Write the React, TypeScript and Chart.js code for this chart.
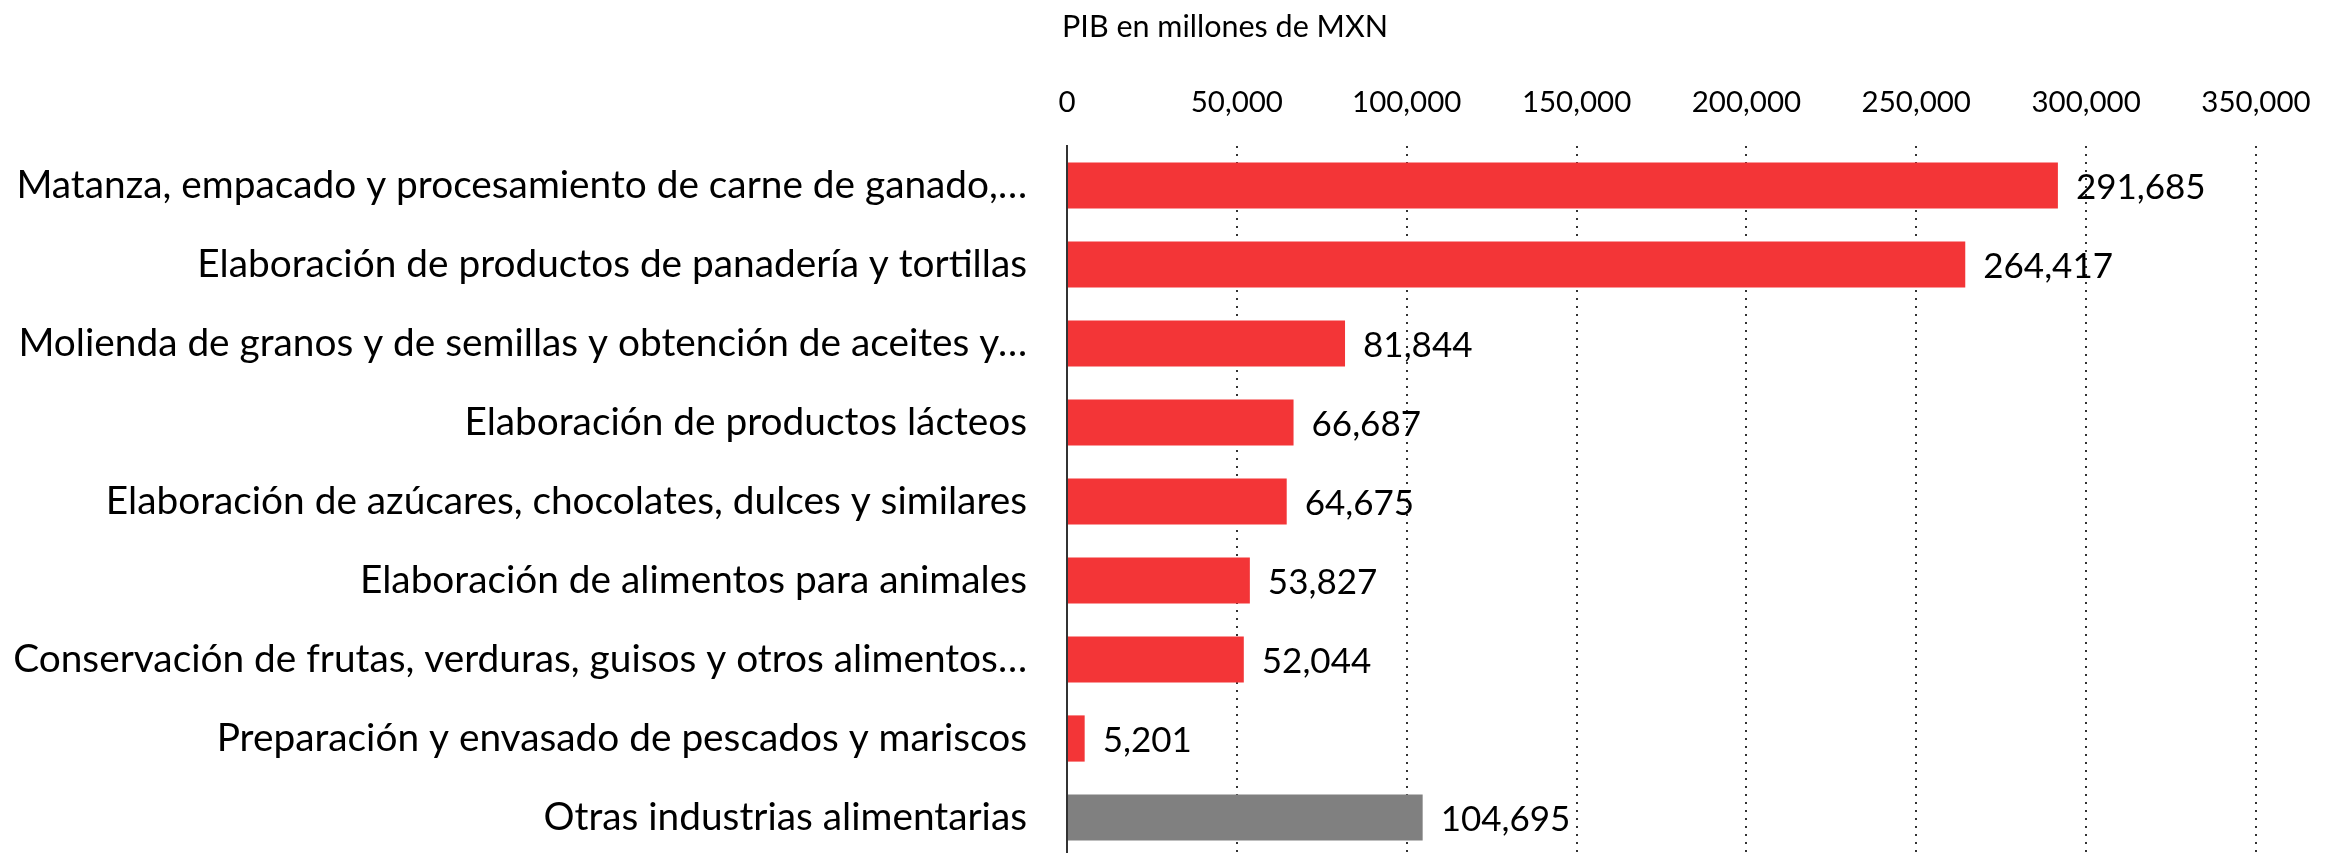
import React, { useEffect, useRef } from 'react';
import { Chart, registerables } from 'chart.js';

Chart.register(...registerables);

const categories: string[] = [
  'Matanza, empacado y procesamiento de carne de ganado,…',
  'Elaboración de productos de panadería y tortillas',
  'Molienda de granos y de semillas y obtención de aceites y…',
  'Elaboración de productos lácteos',
  'Elaboración de azúcares, chocolates, dulces y similares',
  'Elaboración de alimentos para animales',
  'Conservación de frutas, verduras, guisos y otros alimentos…',
  'Preparación y envasado de pescados y mariscos',
  'Otras industrias alimentarias',
];

const values: number[] = [291685, 264417, 81844, 66687, 64675, 53827, 52044, 5201, 104695];

const barColors: string[] = [
  '#F33537', '#F33537', '#F33537', '#F33537', '#F33537', '#F33537', '#F33537', '#F33537', '#808080',
];

const axisMin = 0;
const axisMax = 350000;
const axisStep = 50000;
const chartTitle = 'PIB en millones de MXN';

const FONT = 'Lato, "Open Sans", sans-serif';

const fmt = (v: number) => v.toLocaleString('en-US');

export default function App() {
  const ref = useRef<HTMLCanvasElement | null>(null);

  useEffect(() => {
    if (!ref.current) return;

    const titlePlugin = {
      id: 'customTitle',
      afterDraw(chart: any) {
        const ctx = chart.ctx;
        ctx.save();
        ctx.font = `30.5px ${FONT}`;
        ctx.fillStyle = '#000';
        ctx.textAlign = 'center';
        ctx.textBaseline = 'middle';
        ctx.fillText(chartTitle, 1225, 27);
        ctx.restore();
      },
    };

    const valueLabels = {
      id: 'valueLabels',
      afterDatasetsDraw(chart: any) {
        const ctx = chart.ctx;
        const meta = chart.getDatasetMeta(0);
        ctx.save();
        ctx.font = `35px ${FONT}`;
        ctx.fillStyle = '#000';
        ctx.textAlign = 'left';
        ctx.textBaseline = 'middle';
        meta.data.forEach((el: any, i: number) => {
          ctx.fillText(fmt(values[i]), el.x + 18, el.y + 2);
        });
        ctx.restore();
      },
    };

    const chart = new Chart(ref.current, {
      type: 'bar',
      data: {
        labels: categories,
        datasets: [
          {
            data: values,
            backgroundColor: barColors,
            borderWidth: 0,
            barPercentage: 0.585,
            categoryPercentage: 1,
          },
        ],
      },
      options: {
        indexAxis: 'y',
        responsive: false,
        animation: false,
        devicePixelRatio: 1,
        layout: { padding: 0 },
        plugins: {
          legend: { display: false },
          title: { display: false },
          tooltip: { enabled: false },
        },
        scales: {
          x: {
            position: 'top',
            min: axisMin,
            max: axisMax,
            ticks: {
              stepSize: axisStep,
              color: '#000',
              font: { family: FONT, size: 29.5 },
              padding: 26,
              callback: (v: any) => fmt(Number(v)),
            },
            grid: {
              drawTicks: false,
              lineWidth: 2,
              color: (c: any) => (c.index === 0 ? 'rgba(0,0,0,0)' : '#333333'),
            },
            border: { display: false, dash: [2, 6] },
            afterFit: (scale: any) => {
              scale.height = 146;
              scale.paddingRight = 92;
              scale.paddingLeft = 0;
            },
          },
          y: {
            ticks: {
              color: '#000',
              font: { family: FONT, size: 38.8 },
              padding: 40,
              autoSkip: false,
            },
            grid: { display: false, drawTicks: false },
            border: { display: true, color: '#333333', width: 2 },
            afterFit: (scale: any) => {
              scale.width = 1067;
              scale.paddingTop = 0;
              scale.paddingBottom = 0;
            },
          },
        },
      },
      plugins: [titlePlugin, valueLabels],
    });

    return () => chart.destroy();
  }, []);

  return (
    <div style={{ position: 'fixed', left: 0, top: 0, width: 2348, height: 857, background: '#fff' }}>
      <canvas ref={ref} width={2348} height={857} style={{ display: 'block' }} />
    </div>
  );
}
